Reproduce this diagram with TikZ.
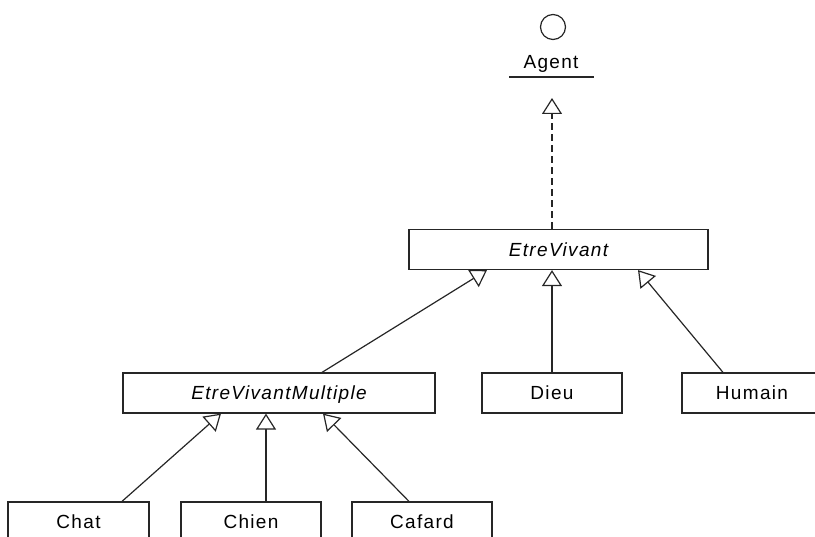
\documentclass[tikz,border=0pt]{standalone}
\usepackage{fontspec}
\setmainfont{Liberation Sans}[LetterSpace=7]
\usetikzlibrary{arrows.meta}
\tikzset{
  cls/.style={draw=black!85, line width=1.2pt, rectangle, inner sep=0pt,
    minimum height=40pt, text height=14pt, text depth=0pt,
    font=\fontsize{19}{22}\selectfont},
  gen/.style={draw=black!85, line width=1.2pt,
    -{Triangle[open, length=16pt, width=20pt, line width=1.2pt]}},
  real/.style={gen, dash pattern=on 7pt off 4pt}
}
\begin{document}
\begin{tikzpicture}[x=1pt, y=-1pt]
\useasboundingbox (0,0) rectangle (815,537);
\begin{scope}
\clip (0,0) rectangle (815,537);
% interface Agent
\draw[black!85, line width=1.2pt] (553,27) circle[radius=12.5pt];
\node[inner sep=0pt, text height=14pt, text depth=0pt, font=\fontsize{19}{22}\selectfont] (agent) at (551,62) {Agent};
\draw[black!85, line width=1.2pt] (509,77) -- (594,77);
\coordinate (agenttip) at (552,98);
% classes
\node[cls, minimum width=299pt] (ev) at (558.5,249.5) {\itshape EtreVivant};
\node[cls, minimum width=312pt] (evm) at (279,393) {\itshape EtreVivantMultiple};
\node[cls, minimum width=140pt] (dieu) at (552,393) {Dieu};
\node[cls, minimum width=140pt] (humain) at (752,393) {Humain};
\node[cls, minimum width=141pt] (chat) at (78.5,522) {Chat};
\node[cls, minimum width=140pt] (chien) at (251,522) {Chien};
\node[cls, minimum width=140pt] (cafard) at (422,522) {Cafard};
% connectors
\draw[real] ([xshift=-6.5pt]ev.north) -- (agenttip);
\draw[gen] ([xshift=43pt]evm.north) -- ([xshift=-71.5pt]ev.south);
\draw[gen] (dieu.north) -- ([xshift=-6.5pt]ev.south);
\draw[gen] ([xshift=-29pt]humain.north) -- ([xshift=79.5pt]ev.south);
\draw[gen] ([xshift=43.5pt]chat.north) -- ([xshift=-58pt]evm.south);
\draw[gen] ([xshift=15pt]chien.north) -- ([xshift=-13pt]evm.south);
\draw[gen] ([xshift=-13pt]cafard.north) -- ([xshift=44pt]evm.south);
\end{scope}
\end{tikzpicture}
\end{document}
